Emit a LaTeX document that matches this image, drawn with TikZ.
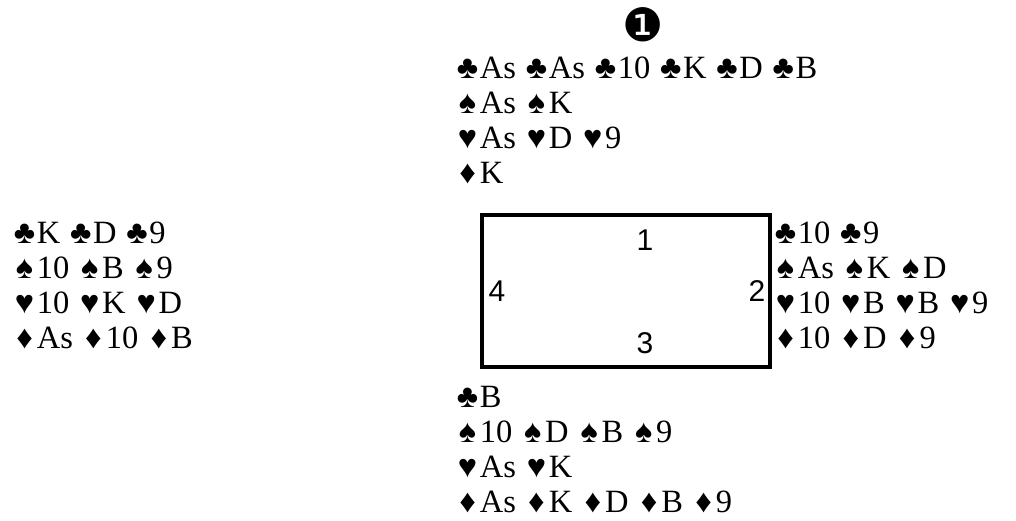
\documentclass[tikz,border=0pt]{standalone}
\usepackage{fontspec}
\usepackage{graphicx}
\setmainfont{Liberation Serif}
\newfontfamily\seatfont{Liberation Sans}
\newfontfamily\dingfont{DejaVu Sans}
\newcommand\suitglyph[1]{\makebox[0.76em][c]{\scalebox{1.0}{#1}}}
\newcommand\sClub{\suitglyph{♣}}
\newcommand\sSpade{\suitglyph{♠}}
\newcommand\sHeart{\suitglyph{♥}}
\newcommand\sDiam{\suitglyph{♦}}
\begin{document}
\begin{tikzpicture}[x=1pt,y=-1pt,
  cardline/.style={anchor=base west,inner sep=0pt,font=\fontsize{32.5}{34}\selectfont},
  seat/.style={inner sep=0pt,font=\seatfont\fontsize{30}{32}\selectfont},
  tablebox/.style={draw,line width=3.6pt,minimum width=288pt,minimum height=152pt,inner sep=0pt}]
\useasboundingbox (0,0) rectangle (1016,520);
\node[font=\dingfont\fontsize{46}{48}\selectfont,inner sep=0pt] (num) at (643,25) {❶};
% North
\node[cardline] (n1) at (455,78) {\sClub As \sClub As \sClub 10 \sClub K \sClub D \sClub B};
\node[cardline] (n2) at (455,113) {\sSpade As \sSpade K};
\node[cardline] (n3) at (455,148) {\sHeart As \sHeart D \sHeart 9};
\node[cardline] (n4) at (455,183) {\sDiam K};
% table
\node[tablebox] (tbl) at (626,291) {};
\node[seat] (s1) at (645,240) {1};
\node[seat] (s2) at (757,291) {2};
\node[seat] (s3) at (645,343) {3};
\node[seat] (s4) at (497,291) {4};
% East
\node[cardline] (e1) at (773,243) {\sClub 10 \sClub 9};
\node[cardline] (e2) at (773,278) {\sSpade As \sSpade K \sSpade D};
\node[cardline] (e3) at (773,313) {\sHeart 10 \sHeart B \sHeart B \sHeart 9};
\node[cardline] (e4) at (773,348) {\sDiam 10 \sDiam D \sDiam 9};
% West
\node[cardline] (w1) at (12,243) {\sClub K \sClub D \sClub 9};
\node[cardline] (w2) at (12,278) {\sSpade 10 \sSpade B \sSpade 9};
\node[cardline] (w3) at (12,313) {\sHeart 10 \sHeart K \sHeart D};
\node[cardline] (w4) at (12,348) {\sDiam As \sDiam 10 \sDiam B};
% South
\node[cardline] (so1) at (455,407) {\sClub B};
\node[cardline] (so2) at (455,442) {\sSpade 10 \sSpade D \sSpade B \sSpade 9};
\node[cardline] (so3) at (455,477) {\sHeart As \sHeart K};
\node[cardline] (so4) at (455,512) {\sDiam As \sDiam K \sDiam D \sDiam B \sDiam 9};
\end{tikzpicture}
\end{document}
